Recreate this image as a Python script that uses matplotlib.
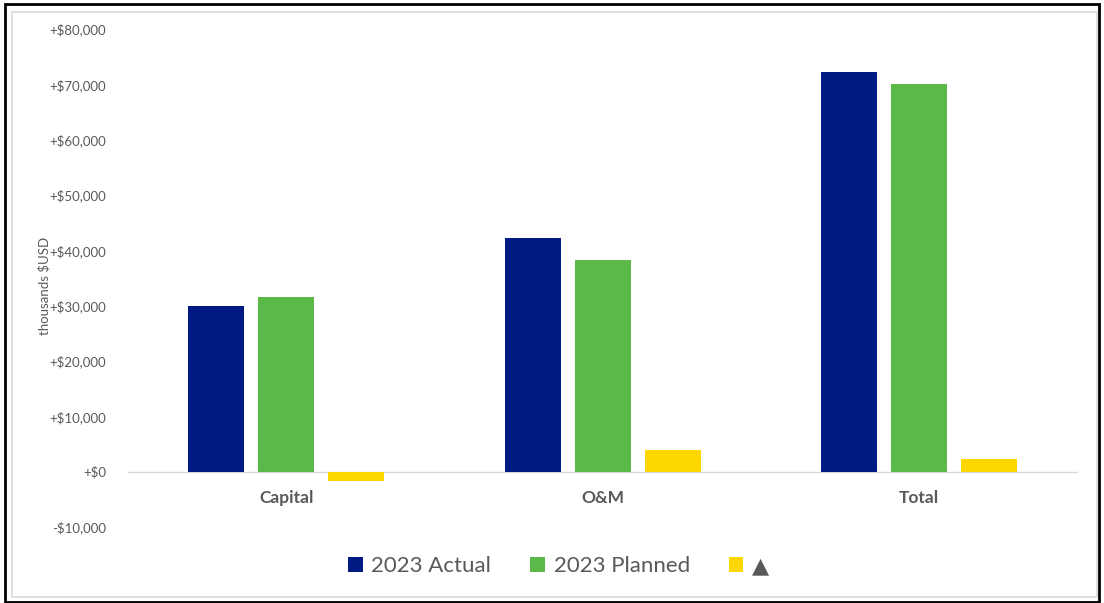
import numpy as np
from matplotlib import pyplot as plt
from matplotlib import patches

categories = ["Capital", "O&M", "Total"]
actual = [30000, 42200, 72300]
planned = [31600, 38300, 70000]
delta = [-1600, 3900, 2300]
series_labels = ["2023 Actual", "2023 Planned", "\u25b2"]
yticks = [-10000, 0, 10000, 20000, 30000, 40000, 50000, 60000, 70000, 80000]

colors = ["#001A84", "#5BB94A", "#FFD700"]
text_gray = "#595959"
fonts = ["Lato", "DejaVu Sans"]

plt.rcParams["font.family"] = fonts

fig = plt.figure(figsize=(11.04, 6.03), dpi=100)
ax = fig.add_axes([0.116, 0.126, 0.860, 0.826])

x = np.arange(len(categories))
width = 0.177
step = 0.221
bars = []
for i, (vals, col) in enumerate(zip([actual, planned, delta], colors)):
    b = ax.bar(x + (i - 1) * step, vals, width, color=col, zorder=2)
    bars.append(b)

ax.set_xlim(-0.5, 2.5)
ax.set_ylim(-10000, 80000)
ax.set_yticks(yticks)
ax.set_yticklabels([("+$" if v >= 0 else "-$") + f"{abs(v):,}" for v in yticks],
                   fontsize=9.5, color=text_gray)
ax.axhline(0, color="#D9D9D9", linewidth=1, zorder=1)
ax.tick_params(axis="y", length=0, pad=16)

# category labels hang just under the zero line
ax.set_xticks([])
for xi, cat in zip(x, categories):
    ax.annotate(cat, (xi, 0), xytext=(0, -13), textcoords="offset points",
                ha="center", va="top", fontsize=12.5, fontweight="bold",
                color=text_gray)

for s in ax.spines.values():
    s.set_visible(False)

fig.text(0.040, 0.525, "thousands $USD", rotation=90, fontsize=9.5,
         color=text_gray, ha="center", va="center")

fig.legend(bars, series_labels, loc="center", bbox_to_anchor=(0.506, 0.061),
           ncol=3, frameon=False, fontsize=16, labelcolor=text_gray,
           handlelength=0.65, handleheight=0.65, handletextpad=0.4,
           columnspacing=1.75)

# chart frame
fig.patches.append(patches.Rectangle((12 / 1104, 6 / 603), 1085 / 1104, 585 / 603,
                                     transform=fig.transFigure, fill=False,
                                     edgecolor="#D9D9D9", linewidth=1.2))
fig.patches.append(patches.Rectangle((5 / 1104, 1 / 603), 1094 / 1104, 598 / 603,
                                     transform=fig.transFigure, fill=False,
                                     edgecolor="black", linewidth=2))

plt.savefig("out.png", dpi=100)
